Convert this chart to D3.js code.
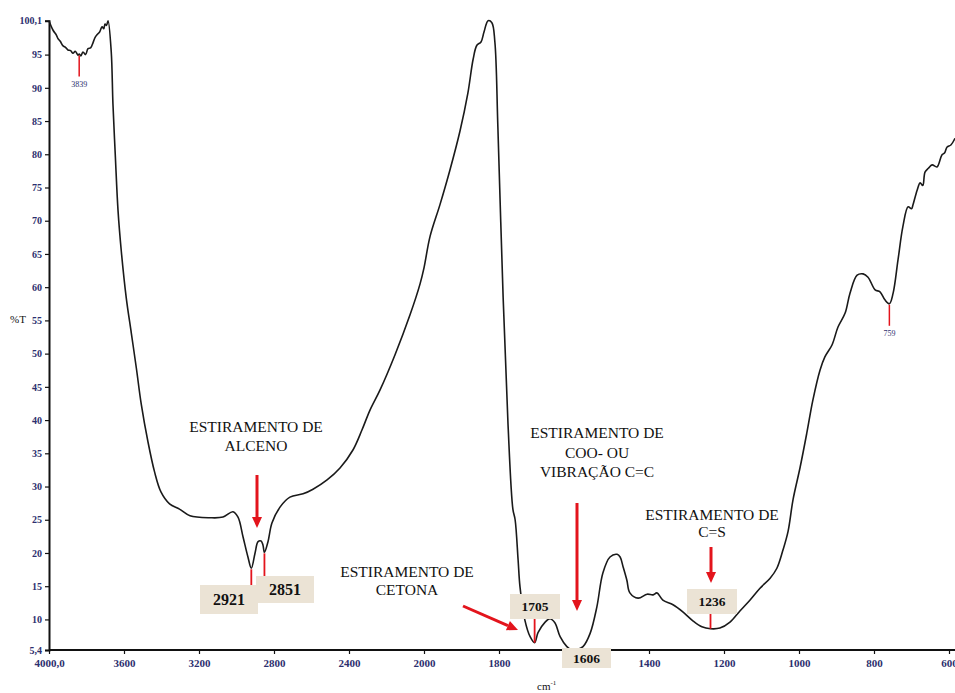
<!DOCTYPE html>
<html>
<head>
<meta charset="utf-8">
<script src="https://cdn.jsdelivr.net/npm/d3@7/dist/d3.min.js"></script>
<style>
  html, body { margin: 0; padding: 0; background: #fff; }
  svg { display: block; }
</style>
</head>
<body>
<svg id="chart" width="955" height="693"></svg>
<script>
// ---------- DATA ----------
// FT-IR spectrum: [wavenumber (cm-1), %T]
const spectrum = [
  [4000,100.1],[3979,98.7],[3960,97.9],[3952,97.4],[3940,97.0],[3925,96.3],[3912,96.1],[3899,95.7],
  [3885,95.6],[3872,95.2],[3860,95.5],[3845,94.9],[3839,95.1],[3830,94.8],[3819,95.4],[3805,95.0],
  [3792,95.9],[3778,96.0],[3765,96.8],[3754,97.6],[3744,98.0],[3730,98.4],[3717,99.2],[3708,98.9],
  [3701,99.6],[3693,99.4],[3685,100.1],[3668,95.4],[3659,87.6],[3646,79.6],[3632,71.6],[3614,65.3],
  [3588,58.4],[3561,53.1],[3534,47.8],[3508,42.4],[3472,36.7],[3437,32.2],[3403,29.2],[3357,27.4],
  [3304,26.6],[3248,25.6],[3141,25.3],[3072,25.4],[3019,26.2],[2992,25.4],[2965,22.4],[2939,19.4],
  [2921,17.7],[2901,20.0],[2885,21.7],[2869,21.8],[2859,21.2],[2851,20.1],[2832,21.7],[2811,24.5],
  [2768,26.9],[2715,28.4],[2645,28.9],[2592,29.6],[2517,31.0],[2448,32.8],[2379,35.5],[2331,38.5],
  [2288,41.5],[2235,44.5],[2155,49.8],[2075,55.8],[2021,60.5],[2000,62.9],[1984,67.6],[1957,72.5],
  [1931,77.6],[1904,83.5],[1883,89.2],[1869,94.3],[1859,96.4],[1848,96.9],[1840,98.4],[1829,100.1],
  [1819,99.8],[1811,96.9],[1803,84.1],[1789,58.5],[1776,39.4],[1763,26.6],[1757,25.0],[1749,18.9],
  [1744,14.9],[1731,9.9],[1717,7.4],[1705,6.5],[1696,8.0],[1677,9.6],[1664,10.1],[1651,9.5],
  [1637,7.4],[1619,5.9],[1606,5.4],[1589,5.5],[1576,5.9],[1557,7.9],[1539,11.9],[1523,17.0],
  [1504,19.4],[1485,19.8],[1477,19.4],[1469,17.9],[1459,15.9],[1451,14.0],[1429,13.2],[1405,13.8],
  [1389,13.7],[1379,14.0],[1363,12.9],[1336,12.2],[1309,11.1],[1283,9.8],[1259,8.9],[1236,8.6],
  [1211,8.7],[1184,9.6],[1157,11.3],[1131,12.9],[1104,14.7],[1077,16.2],[1059,17.7],[1043,20.4],
  [1029,23.3],[1016,28.0],[997,32.9],[979,38.1],[963,43.0],[944,47.5],[931,49.5],[912,51.3],
  [896,54.0],[877,56.1],[864,59.1],[845,61.8],[829,62.0],[816,61.5],[797,59.6],[784,59.3],
  [771,58.1],[759,57.5],[749,59.1],[736,64.1],[723,69.1],[709,72.1],[700,71.8],[696,72.4],
  [685,74.6],[677,75.7],[670,75.3],[664,77.3],[655,77.9],[645,78.4],[632,78.1],[619,79.9],
  [612,80.2],[605,81.1],[595,81.4],[584,82.4]
];

const xTicks = [4000, 3600, 3200, 2800, 2400, 2000, 1800, 1600, 1400, 1200, 1000, 800, 600];
// the 1600 label is hidden under the "1606" box in the original
const xTickLabels = ["4000,0", "3600", "3200", "2800", "2400", "2000", "1800", "", "1400", "1200", "1000", "800", "600"];
const yTicks = [100.1, 95, 90, 85, 80, 75, 70, 65, 60, 55, 50, 45, 40, 35, 30, 25, 20, 15, 10, 5.4];
const yTickLabels = ["100,1", "95", "90", "85", "80", "75", "70", "65", "60", "55", "50", "45", "40", "35", "30", "25", "20", "15", "10", "5,4"];

// small peak markers (wavenumber, %T at the band)
const smallPeaks = [ { wn: 3839, t: 95.0, label: "3839" }, { wn: 759, t: 57.5, label: "759" } ];
// boxed band labels
const boxedPeaks = [
  { wn: 2851, t: 20.1, label: "2851" },
  { wn: 2921, t: 17.7, label: "2921" },
  { wn: 1705, t: 6.5,  label: "1705" },
  { wn: 1606, t: 5.4,  label: "1606" },
  { wn: 1236, t: 8.6,  label: "1236" }
];
const annotationTexts = [
  ["ESTIRAMENTO DE", "ALCENO"],
  ["ESTIRAMENTO DE", "CETONA"],
  ["ESTIRAMENTO DE", "COO- OU", "VIBRAÇÃO C=C"],
  ["ESTIRAMENTO DE", "C=S"]
];

// ---------- LAYOUT ----------
const svg = d3.select("#chart");
const x = d3.scaleLinear().domain([4000, 2000, 600]).range([49, 424, 949]);
const y = d3.scaleLinear().domain([5.4, 100.1]).range([650, 20.7]);

const serif = "'Liberation Serif', 'Times New Roman', serif";
const tickColor = "#2d2f6e";
const red = "#e3141c";
const boxFill = "#ebe3d5";

// y axis
const yAxis = svg.append("g").attr("transform", "translate(49,0)")
  .call(d3.axisLeft(y).tickValues(yTicks).tickSize(4).tickPadding(3)
    .tickFormat((d, i) => yTickLabels[i]));
yAxis.select(".domain").attr("stroke", "#111").attr("stroke-width", 2);
yAxis.selectAll(".tick line").attr("stroke", "#111").attr("stroke-width", 1.2);
yAxis.selectAll(".tick text").attr("fill", tickColor).attr("font-family", serif)
  .attr("font-size", 10).attr("font-weight", "bold");

// x axis
const xAxis = svg.append("g").attr("transform", "translate(0,650)")
  .call(d3.axisBottom(x).tickValues(xTicks).tickSize(4).tickPadding(5)
    .tickFormat((d, i) => xTickLabels[i]));
xAxis.select(".domain").attr("d", "M49,0H955").attr("stroke", "#111").attr("stroke-width", 2);
xAxis.selectAll(".tick line").attr("stroke", "#111").attr("stroke-width", 1.2);
xAxis.selectAll(".tick text").attr("fill", tickColor).attr("font-family", serif)
  .attr("font-size", 11).attr("font-weight", "bold");

// axis titles
svg.append("text").attr("x", 10).attr("y", 323).attr("font-family", serif)
  .attr("font-size", 11).attr("fill", "#111").text("%T");
const cm = svg.append("text").attr("x", 537).attr("y", 690).attr("font-family", serif)
  .attr("font-size", 11).attr("fill", "#111");
cm.append("tspan").text("cm");
cm.append("tspan").attr("font-size", 7).attr("dy", -5).text("-1");

// spectrum line
const line = d3.line().x(d => x(d[0])).y(d => y(d[1])).curve(d3.curveCatmullRom.alpha(0.5));
svg.append("path").datum(spectrum).attr("d", line)
  .attr("fill", "none").attr("stroke", "#1a1a1a").attr("stroke-width", 1.6)
  .attr("stroke-linejoin", "round");

// small peak markers
const smallLen = [21, 21];
smallPeaks.forEach((p, i) => {
  const px = x(p.wn), py = y(p.t) + 1;
  svg.append("line").attr("x1", px).attr("x2", px).attr("y1", py).attr("y2", py + smallLen[i])
    .attr("stroke", red).attr("stroke-width", 1.5);
  svg.append("text").attr("x", px).attr("y", py + smallLen[i] + 10).attr("text-anchor", "middle")
    .attr("font-family", serif).attr("font-size", 8).attr("fill", tickColor).text(p.label);
});

// boxed labels: [left, top, width, height, fontSize]
const boxGeom = {
  "2851": [256, 576, 58, 27, 16],
  "2921": [200, 585, 58, 29, 16],
  "1705": [510, 594, 50, 25, 13.5],
  "1606": [562, 648, 49, 20, 13.5],
  "1236": [687, 589, 50, 25, 13.5]
};
boxedPeaks.forEach(p => {
  const g = boxGeom[p.label];
  const px = x(p.wn), py = y(p.t);
  const boxTop = g[1];
  if (p.label !== "1606") {
    const below = (p.label === "1705" || p.label === "1236");
    svg.append("line").attr("x1", px).attr("x2", px)
      .attr("y1", below ? boxTop + g[3] : py + 1)
      .attr("y2", below ? py : boxTop)
      .attr("stroke", red).attr("stroke-width", 1.8);
  }
  svg.append("rect").attr("x", g[0]).attr("y", g[1]).attr("width", g[2]).attr("height", g[3])
    .attr("fill", boxFill);
  svg.append("text").attr("x", g[0] + g[2] / 2).attr("y", g[1] + g[3] / 2 + g[4] * 0.35)
    .attr("text-anchor", "middle").attr("font-family", serif).attr("font-weight", "bold")
    .attr("font-size", g[4]).attr("fill", "#111").text(p.label);
});

// annotation texts: [centerX, firstBaseline, lineStep]
const textGeom = [[256, 432, 19], [407, 577, 18], [597, 438, 19.5], [712, 520, 17]];
annotationTexts.forEach((lines, i) => {
  const t = svg.append("text").attr("font-family", serif).attr("font-size", 15.5)
    .attr("fill", "#111").attr("text-anchor", "middle");
  lines.forEach((s, j) => {
    t.append("tspan").attr("x", textGeom[i][0]).attr("y", textGeom[i][1] + j * textGeom[i][2]).text(s);
  });
});

// arrows: [x1, y1, x2, y2]
const arrows = [[257, 475, 257, 528], [463, 606, 518, 630], [577, 503, 577, 611], [711, 547, 711, 583]];
arrows.forEach(a => {
  const [x1, y1, x2, y2] = a;
  const ang = Math.atan2(y2 - y1, x2 - x1);
  const hl = 11, hw = 5;
  const bx = x2 - hl * Math.cos(ang), by = y2 - hl * Math.sin(ang);
  svg.append("line").attr("x1", x1).attr("y1", y1).attr("x2", bx).attr("y2", by)
    .attr("stroke", red).attr("stroke-width", 3);
  const px = -Math.sin(ang), py = Math.cos(ang);
  svg.append("path")
    .attr("d", `M${x2},${y2}L${bx + hw * px},${by + hw * py}L${bx - hw * px},${by - hw * py}Z`)
    .attr("fill", red);
});
</script>
</body>
</html>
